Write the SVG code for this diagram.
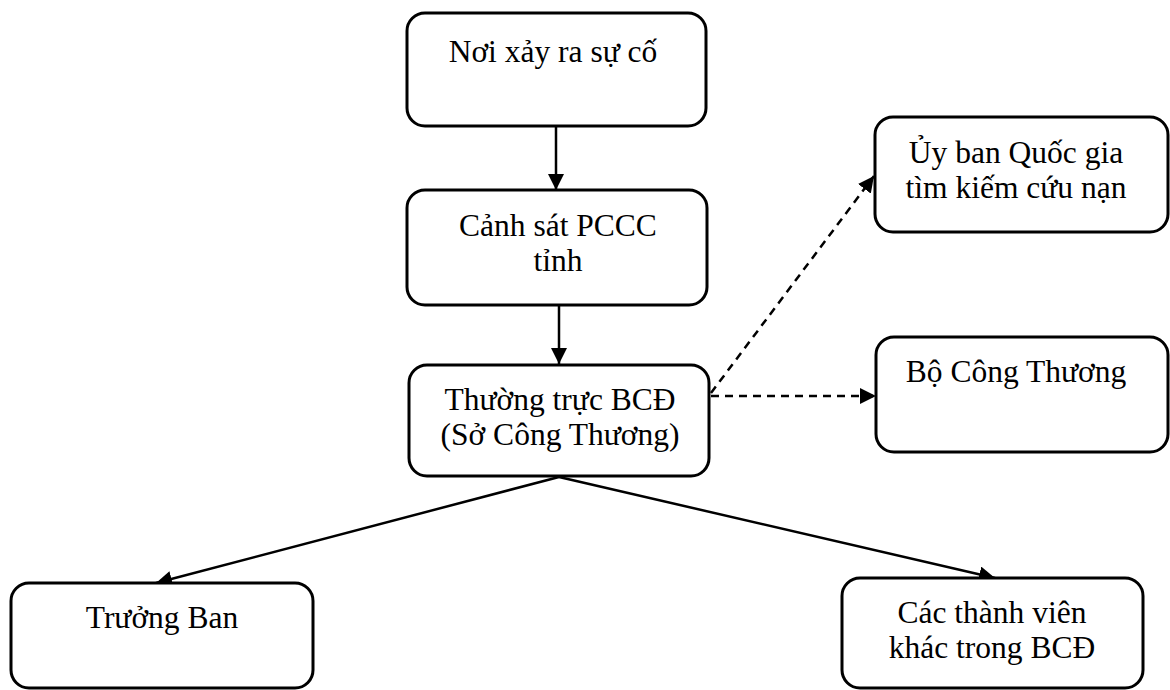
<svg xmlns="http://www.w3.org/2000/svg" width="1170" height="690" viewBox="0 0 1170 690">
<style>
.box{fill:#fff;stroke:#000;stroke-width:3}
.t{font-family:"Liberation Serif","Times New Roman",serif;font-size:31.5px;fill:#000;text-anchor:middle}
.c{stroke:#000;stroke-width:2.5;fill:none}
.d{stroke:#000;stroke-width:2.5;fill:none;stroke-dasharray:8 6}
</style>
<defs>
<marker id="ahb" viewBox="0 0 10 10" refX="10" refY="5" markerWidth="16" markerHeight="16" markerUnits="userSpaceOnUse" orient="auto">
<path d="M0,0 L10,5 L0,10 z" fill="#000"/>
</marker>
</defs>
<rect width="1170" height="690" fill="#fff"/>
<g id="connectors">
<line class="c" x1="556" y1="127" x2="556" y2="190" marker-end="url(#ahb)"/>
<line class="c" x1="559" y1="306" x2="559" y2="364" marker-end="url(#ahb)"/>
<line class="d" x1="711" y1="393" x2="874" y2="176" marker-end="url(#ahb)"/>
<line class="d" x1="711" y1="396" x2="876" y2="396" marker-end="url(#ahb)"/>
<line class="c" x1="559" y1="477" x2="156" y2="583" marker-end="url(#ahb)"/>
<line class="c" x1="559" y1="477" x2="995" y2="578" marker-end="url(#ahb)"/>
</g>
<g id="n1">
<rect class="box" x="407" y="13" width="299" height="113" rx="18"/>
<text class="t" x="553" y="62">Nơi xảy ra sự cố</text>
</g>
<g id="n2">
<rect class="box" x="407" y="190" width="300" height="115" rx="18"/>
<text class="t" x="558" y="236">Cảnh sát PCCC</text>
<text class="t" x="558" y="271">tỉnh</text>
</g>
<g id="n3">
<rect class="box" x="409" y="365" width="300" height="111" rx="18"/>
<text class="t" x="560" y="410">Thường trực BCĐ</text>
<text class="t" x="560" y="445">(Sở Công Thương)</text>
</g>
<g id="n4">
<rect class="box" x="875" y="117" width="293" height="115" rx="18"/>
<text class="t" x="1016" y="163">Ủy ban Quốc gia</text>
<text class="t" x="1016" y="198">tìm kiếm cứu nạn</text>
</g>
<g id="n5">
<rect class="box" x="876" y="337" width="292" height="115" rx="18"/>
<text class="t" x="1016" y="382">Bộ Công Thương</text>
</g>
<g id="n6">
<rect class="box" x="11" y="583" width="302" height="105" rx="18"/>
<text class="t" x="162" y="628">Trưởng Ban</text>
</g>
<g id="n7">
<rect class="box" x="842" y="578" width="301" height="110" rx="18"/>
<text class="t" x="992" y="623">Các thành viên</text>
<text class="t" x="992" y="658">khác trong BCĐ</text>
</g>
</svg>
